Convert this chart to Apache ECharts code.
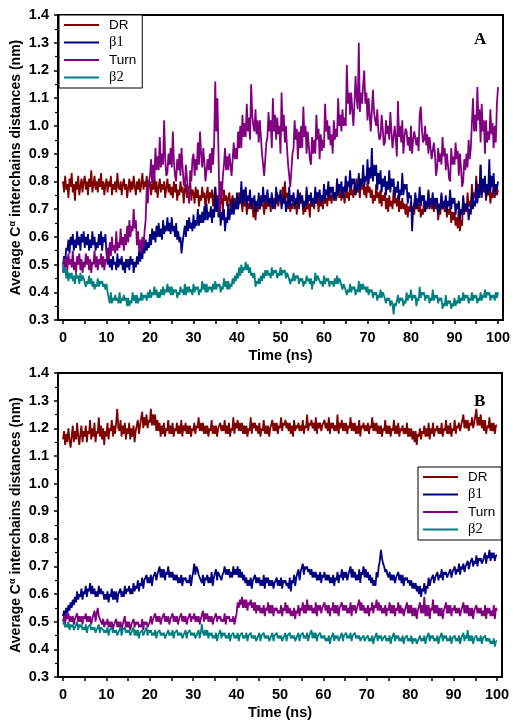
<!DOCTYPE html>
<html>
<head>
<meta charset="utf-8">
<script src="https://cdn.jsdelivr.net/npm/echarts@6/dist/echarts.min.js"></script>
<style>
  html, body { margin: 0; padding: 0; background: #fff; }
  #chart { width: 514px; height: 722px; }
</style>
</head>
<body>
<div id="chart"></div>
<script>
// Sampling interval of the trajectories (ns)
const SAMPLE_STEP_NS = 0.25;

const seriesNames = ['DR', 'β1', 'Turn', 'β2'];
const seriesColors = ['#800000', '#000080', '#800080', '#008080'];

const xTickLabels = [0, 10, 20, 30, 40, 50, 60, 70, 80, 90, 100];
const xTickMarks = [0, 5, 10, 15, 20, 25, 30, 35, 40, 45, 50, 55, 60, 65, 70, 75, 80, 85, 90, 95, 100];
const yTickLabels = ['0.3', '0.4', '0.5', '0.6', '0.7', '0.8', '0.9', '1.0', '1.1', '1.2', '1.3', '1.4'];

// ---- Panel A: average C-alpha interchain distances (nm), one row per 5 ns ----
const panelA_DR = [
  0.80,0.76,0.82,0.77, 0.79,0.74,0.81,0.78, 0.83,0.76,0.79,0.73, 0.80,0.77,0.82,0.75, 0.78,0.81,0.76,0.80,
  0.82,0.77,0.80,0.75, 0.81,0.78,0.84,0.76, 0.79,0.82,0.77,0.80, 0.76,0.81,0.78,0.83, 0.77,0.80,0.75,0.79,
  0.81,0.76,0.80,0.78, 0.82,0.75,0.79,0.77, 0.80,0.76,0.83,0.78, 0.77,0.80,0.75,0.79, 0.81,0.77,0.79,0.74,
  0.78,0.81,0.76,0.80, 0.77,0.82,0.78,0.75, 0.80,0.77,0.81,0.76, 0.79,0.83,0.77,0.80, 0.78,0.82,0.76,0.79,
  0.80,0.75,0.79,0.77, 0.82,0.76,0.80,0.74, 0.78,0.81,0.76,0.79, 0.77,0.80,0.74,0.78, 0.81,0.76,0.79,0.75,
  0.78,0.74,0.80,0.76, 0.79,0.73,0.77,0.75, 0.80,0.76,0.78,0.72, 0.77,0.79,0.74,0.78, 0.76,0.80,0.73,0.77,
  0.76,0.72,0.78,0.74, 0.77,0.71,0.75,0.73, 0.78,0.74,0.76,0.70, 0.75,0.78,0.72,0.76, 0.74,0.77,0.71,0.75,
  0.78,0.73,0.75,0.70, 0.76,0.72,0.74,0.69, 0.77,0.73,0.75,0.71, 0.74,0.76,0.70,0.73, 0.75,0.71,0.74,0.70,
  0.74,0.70,0.76,0.72, 0.73,0.69,0.75,0.71, 0.74,0.68,0.72,0.70, 0.75,0.71,0.73,0.67, 0.72,0.66,0.71,0.69,
  0.73,0.70,0.75,0.71, 0.72,0.68,0.74,0.70, 0.76,0.71,0.73,0.69, 0.75,0.72,0.74,0.70, 0.73,0.76,0.71,0.74,
  0.75,0.71,0.78,0.73, 0.80,0.74,0.76,0.70, 0.74,0.69,0.72,0.70, 0.75,0.71,0.73,0.68, 0.74,0.70,0.76,0.72,
  0.73,0.68,0.71,0.69, 0.74,0.70,0.72,0.67, 0.75,0.71,0.73,0.70, 0.76,0.72,0.74,0.69, 0.75,0.71,0.73,0.70,
  0.76,0.72,0.74,0.71, 0.77,0.73,0.75,0.72, 0.78,0.74,0.76,0.73, 0.75,0.79,0.74,0.77, 0.73,0.78,0.75,0.72,
  0.78,0.74,0.76,0.73, 0.80,0.75,0.77,0.74, 0.79,0.75,0.81,0.76, 0.78,0.74,0.80,0.77, 0.79,0.75,0.78,0.74,
  0.80,0.76,0.78,0.74, 0.77,0.72,0.75,0.73, 0.79,0.74,0.76,0.72, 0.77,0.71,0.75,0.73, 0.76,0.70,0.74,0.69,
  0.75,0.71,0.73,0.70, 0.77,0.72,0.74,0.71, 0.75,0.69,0.73,0.70, 0.74,0.70,0.72,0.68, 0.72,0.67,0.71,0.69,
  0.73,0.69,0.71,0.68, 0.75,0.70,0.73,0.69, 0.72,0.67,0.70,0.68, 0.74,0.69,0.72,0.70, 0.76,0.71,0.73,0.70,
  0.74,0.69,0.72,0.70, 0.72,0.66,0.70,0.68, 0.75,0.70,0.72,0.69, 0.73,0.67,0.70,0.68, 0.71,0.65,0.69,0.66,
  0.69,0.64,0.67,0.63, 0.72,0.62,0.66,0.64, 0.74,0.68,0.71,0.69, 0.76,0.71,0.73,0.70, 0.79,0.73,0.76,0.74,
  0.82,0.75,0.79,0.77, 0.86,0.74,0.80,0.76, 0.80,0.73,0.77,0.75, 0.78,0.72,0.76,0.74, 0.80,0.74,0.78,0.75,
  0.77
];
const panelA_B1 = [
  0.50,0.53,0.51,0.56, 0.55,0.59,0.54,0.60, 0.57,0.61,0.55,0.59, 0.56,0.62,0.57,0.60, 0.55,0.61,0.58,0.62,
  0.56,0.60,0.57,0.61, 0.55,0.59,0.56,0.62, 0.57,0.60,0.55,0.58, 0.56,0.61,0.57,0.62, 0.55,0.60,0.58,0.61,
  0.54,0.50,0.53,0.49, 0.52,0.48,0.53,0.50, 0.51,0.48,0.54,0.49, 0.52,0.50,0.53,0.48, 0.51,0.47,0.52,0.49,
  0.52,0.48,0.53,0.50, 0.52,0.47,0.51,0.49, 0.53,0.50,0.55,0.51, 0.56,0.52,0.58,0.54, 0.59,0.55,0.58,0.56,
  0.61,0.57,0.63,0.59, 0.62,0.58,0.64,0.60, 0.65,0.60,0.63,0.59, 0.66,0.61,0.64,0.62, 0.67,0.62,0.65,0.61,
  0.67,0.62,0.64,0.60, 0.65,0.59,0.62,0.58, 0.60,0.54,0.58,0.61, 0.64,0.60,0.66,0.62, 0.67,0.63,0.65,0.62,
  0.68,0.63,0.66,0.64, 0.70,0.64,0.68,0.65, 0.69,0.65,0.71,0.66, 0.72,0.66,0.69,0.67, 0.71,0.65,0.70,0.67,
  0.78,0.69,0.74,0.67, 0.73,0.64,0.69,0.66, 0.70,0.62,0.67,0.65, 0.72,0.66,0.70,0.68, 0.74,0.68,0.72,0.70,
  0.76,0.70,0.74,0.72, 0.80,0.72,0.77,0.73, 0.78,0.71,0.75,0.73, 0.77,0.70,0.74,0.72, 0.75,0.69,0.73,0.71,
  0.76,0.70,0.74,0.72, 0.78,0.72,0.75,0.73, 0.77,0.71,0.74,0.72, 0.76,0.70,0.73,0.71, 0.78,0.72,0.75,0.73,
  0.77,0.70,0.74,0.72, 0.75,0.69,0.73,0.71, 0.78,0.71,0.75,0.73, 0.76,0.70,0.74,0.72, 0.77,0.71,0.75,0.73,
  0.75,0.70,0.73,0.71, 0.78,0.72,0.75,0.73, 0.76,0.71,0.74,0.72, 0.78,0.72,0.76,0.74, 0.77,0.72,0.75,0.73,
  0.79,0.73,0.77,0.75, 0.80,0.74,0.78,0.76, 0.78,0.73,0.76,0.74, 0.81,0.75,0.79,0.77, 0.80,0.74,0.78,0.76,
  0.82,0.76,0.80,0.78, 0.84,0.77,0.81,0.79, 0.81,0.75,0.79,0.77, 0.83,0.77,0.81,0.79, 0.86,0.78,0.82,0.80,
  0.88,0.79,0.85,0.81, 0.92,0.80,0.86,0.82, 0.86,0.77,0.83,0.79, 0.84,0.76,0.81,0.78, 0.82,0.75,0.80,0.77,
  0.84,0.76,0.81,0.78, 0.81,0.74,0.78,0.76, 0.80,0.73,0.77,0.75, 0.83,0.75,0.79,0.77, 0.79,0.72,0.76,0.74,
  0.75,0.62,0.70,0.72, 0.76,0.70,0.74,0.72, 0.78,0.71,0.75,0.73, 0.75,0.69,0.73,0.71, 0.77,0.70,0.74,0.72,
  0.76,0.70,0.74,0.72, 0.74,0.68,0.72,0.70, 0.76,0.70,0.73,0.71, 0.75,0.69,0.73,0.71, 0.77,0.70,0.74,0.72,
  0.74,0.68,0.72,0.70, 0.73,0.66,0.70,0.68, 0.75,0.69,0.72,0.70, 0.72,0.66,0.70,0.68, 0.76,0.70,0.73,0.71,
  0.80,0.72,0.77,0.74, 0.86,0.75,0.81,0.77, 0.82,0.74,0.79,0.76, 0.88,0.76,0.82,0.78, 0.83,0.75,0.79,0.77,
  0.80
];
const panelA_Turn = [
  0.47,0.52,0.49,0.53, 0.48,0.54,0.50,0.52, 0.49,0.55,0.48,0.51, 0.47,0.53,0.50,0.54, 0.48,0.52,0.47,0.51,
  0.49,0.54,0.50,0.53, 0.48,0.52,0.47,0.51, 0.50,0.55,0.49,0.53, 0.48,0.52,0.50,0.54, 0.49,0.53,0.48,0.52,
  0.51,0.56,0.52,0.58, 0.53,0.60,0.55,0.57, 0.54,0.62,0.55,0.58, 0.56,0.63,0.57,0.60, 0.55,0.61,0.57,0.64,
  0.58,0.66,0.60,0.64, 0.62,0.70,0.63,0.66, 0.57,0.62,0.55,0.59, 0.54,0.60,0.56,0.62, 0.66,0.78,0.72,0.80,
  0.82,0.88,0.79,0.86, 0.80,0.92,0.84,0.89, 0.84,0.96,0.85,0.90, 0.86,1.02,0.88,0.82, 0.83,0.90,0.86,0.92,
  0.85,0.98,0.87,0.82, 0.80,0.88,0.84,0.90, 0.82,0.92,0.85,0.79, 0.78,0.86,0.81,0.76, 0.72,0.84,0.80,0.88,
  0.90,0.82,0.88,0.84, 0.94,0.86,0.98,0.90, 0.85,0.92,0.87,0.80, 0.80,0.88,0.84,0.90, 0.83,0.92,0.86,0.94,
  1.16,0.98,1.10,0.90, 0.68,0.80,0.74,0.82, 0.86,0.92,0.84,0.89, 0.84,0.90,0.86,0.82, 0.82,0.94,0.88,0.92,
  0.88,0.98,0.92,1.00, 0.92,1.04,0.96,1.01, 0.96,1.08,0.98,1.03, 0.95,1.15,1.04,1.00, 0.98,1.06,0.97,1.02,
  0.94,1.02,0.96,0.90, 0.90,0.82,0.88,0.94, 0.96,1.05,0.98,1.02, 0.92,1.10,0.98,1.04, 0.95,1.03,0.97,1.00,
  0.90,1.12,0.98,1.04, 0.94,1.00,0.92,0.86, 0.86,0.78,0.84,0.90, 0.92,1.02,0.95,0.99, 0.88,0.98,0.92,1.00,
  0.92,1.07,0.96,1.00, 0.90,0.98,0.93,0.88, 0.86,0.96,0.90,0.95, 0.90,1.04,0.95,0.99, 0.88,0.97,0.91,0.95,
  0.92,1.08,0.98,1.02, 0.95,1.00,0.93,0.97, 0.90,1.02,0.95,0.99, 0.96,1.10,1.00,1.04, 0.98,1.06,1.00,1.03,
  1.00,1.22,1.08,1.12, 1.04,1.12,1.06,1.00, 1.08,1.18,1.10,1.06, 1.30,1.05,1.12,1.08, 1.15,1.20,1.08,1.12,
  1.02,1.10,1.04,0.98, 0.98,1.13,1.05,1.02, 1.00,1.06,0.98,0.95, 0.96,1.04,0.99,0.93, 0.94,1.02,0.97,1.00,
  0.95,1.05,0.98,0.92, 0.92,1.00,0.95,0.89, 1.09,0.96,1.00,0.94, 1.02,0.90,0.96,0.99, 0.98,0.93,0.96,0.91,
  1.00,0.90,0.95,0.98, 0.98,0.93,0.96,0.91, 1.04,1.07,0.99,0.94, 0.95,1.00,0.93,0.97, 0.90,0.96,0.92,0.88,
  0.88,0.94,0.90,0.82, 0.85,0.92,0.87,0.90, 0.86,0.96,0.89,0.92, 0.84,0.90,0.86,0.81, 0.80,0.92,0.86,0.89,
  0.86,0.94,0.88,0.91, 0.82,0.90,0.85,0.78, 0.80,0.88,0.84,0.90, 0.85,0.95,0.88,0.92, 0.92,1.10,0.98,1.04,
  0.98,1.14,1.02,1.06, 0.94,1.08,0.98,1.02, 0.90,1.02,0.94,0.98, 0.95,1.06,0.97,1.01, 0.92,1.00,0.94,1.08,
  1.14
];
const panelA_B2 = [
  0.50,0.47,0.49,0.45, 0.48,0.44,0.47,0.45, 0.47,0.44,0.46,0.43, 0.47,0.45,0.46,0.43, 0.47,0.44,0.46,0.45,
  0.45,0.42,0.44,0.43, 0.46,0.43,0.45,0.42, 0.44,0.41,0.43,0.42, 0.45,0.42,0.44,0.43, 0.44,0.42,0.43,0.41,
  0.43,0.40,0.38,0.36, 0.40,0.36,0.38,0.37, 0.39,0.37,0.38,0.36, 0.40,0.36,0.38,0.37, 0.39,0.37,0.38,0.35,
  0.38,0.35,0.37,0.36, 0.40,0.37,0.39,0.36, 0.39,0.36,0.38,0.37, 0.40,0.37,0.39,0.38, 0.39,0.37,0.40,0.38,
  0.41,0.38,0.40,0.39, 0.42,0.39,0.41,0.38, 0.40,0.38,0.41,0.39, 0.42,0.39,0.41,0.40, 0.43,0.40,0.42,0.39,
  0.42,0.39,0.41,0.40, 0.41,0.38,0.40,0.39, 0.42,0.40,0.41,0.39, 0.43,0.39,0.42,0.40, 0.42,0.40,0.41,0.39,
  0.43,0.40,0.42,0.41, 0.42,0.39,0.41,0.40, 0.44,0.41,0.43,0.40, 0.43,0.40,0.42,0.41, 0.42,0.40,0.43,0.41,
  0.44,0.41,0.43,0.42, 0.43,0.40,0.42,0.41, 0.45,0.42,0.44,0.41, 0.44,0.41,0.43,0.42, 0.45,0.43,0.46,0.44,
  0.47,0.45,0.49,0.46, 0.50,0.47,0.49,0.48, 0.51,0.48,0.50,0.47, 0.49,0.46,0.47,0.45, 0.47,0.42,0.44,0.43,
  0.45,0.43,0.46,0.44, 0.47,0.45,0.48,0.46, 0.48,0.46,0.47,0.45, 0.49,0.46,0.48,0.47, 0.48,0.45,0.47,0.46,
  0.49,0.46,0.48,0.47, 0.48,0.45,0.47,0.46, 0.46,0.43,0.45,0.44, 0.47,0.44,0.46,0.45, 0.46,0.43,0.45,0.44,
  0.45,0.42,0.44,0.43, 0.46,0.44,0.45,0.43, 0.45,0.41,0.44,0.43, 0.47,0.44,0.46,0.45, 0.45,0.43,0.44,0.42,
  0.46,0.43,0.45,0.44, 0.45,0.42,0.44,0.43, 0.44,0.42,0.45,0.43, 0.46,0.43,0.45,0.44, 0.44,0.41,0.43,0.42,
  0.42,0.39,0.41,0.40, 0.43,0.40,0.42,0.41, 0.42,0.39,0.41,0.40, 0.44,0.40,0.43,0.41, 0.43,0.41,0.42,0.40,
  0.42,0.39,0.41,0.40, 0.41,0.38,0.40,0.39, 0.40,0.37,0.39,0.38, 0.41,0.38,0.40,0.39, 0.39,0.36,0.38,0.37,
  0.38,0.35,0.37,0.36, 0.32,0.36,0.35,0.37, 0.39,0.36,0.38,0.37, 0.38,0.35,0.37,0.36, 0.40,0.37,0.39,0.38,
  0.41,0.37,0.39,0.38, 0.39,0.35,0.38,0.37, 0.42,0.38,0.40,0.39, 0.40,0.37,0.39,0.38, 0.39,0.36,0.38,0.37,
  0.41,0.37,0.39,0.38, 0.39,0.36,0.38,0.37, 0.38,0.34,0.36,0.35, 0.39,0.35,0.37,0.36, 0.37,0.34,0.36,0.35,
  0.38,0.35,0.37,0.36, 0.39,0.36,0.38,0.37, 0.40,0.37,0.39,0.38, 0.39,0.36,0.38,0.37, 0.40,0.37,0.39,0.38,
  0.39,0.36,0.38,0.37, 0.40,0.37,0.39,0.38, 0.41,0.38,0.40,0.39, 0.40,0.37,0.39,0.38, 0.39,0.37,0.40,0.38,
  0.40
];

// ---- Panel B ----
const panelB_DR = [
  1.16,1.19,1.14,1.18, 1.15,1.20,1.16,1.13, 1.17,1.21,1.15,1.19, 1.16,1.22,1.17,1.14, 1.18,1.21,1.15,1.19,
  1.17,1.21,1.15,1.19, 1.18,1.23,1.16,1.20, 1.17,1.22,1.15,1.19, 1.18,1.24,1.17,1.21, 1.16,1.20,1.14,1.19,
  1.17,1.22,1.16,1.20, 1.19,1.23,1.17,1.21, 1.18,1.22,1.27,1.20, 1.19,1.23,1.17,1.21, 1.18,1.22,1.16,1.20,
  1.18,1.22,1.16,1.20, 1.17,1.21,1.15,1.19, 1.19,1.23,1.18,1.21, 1.21,1.26,1.20,1.24, 1.21,1.25,1.20,1.23,
  1.22,1.27,1.21,1.25, 1.21,1.25,1.19,1.23, 1.19,1.22,1.17,1.21, 1.18,1.22,1.17,1.20, 1.19,1.23,1.18,1.21,
  1.18,1.22,1.17,1.20, 1.19,1.22,1.18,1.21, 1.18,1.23,1.17,1.21, 1.19,1.22,1.18,1.21, 1.18,1.21,1.17,1.20,
  1.19,1.22,1.18,1.21, 1.20,1.24,1.19,1.22, 1.19,1.22,1.18,1.21, 1.18,1.21,1.17,1.20, 1.19,1.23,1.18,1.21,
  1.18,1.21,1.17,1.20, 1.20,1.22,1.19,1.21, 1.19,1.23,1.18,1.21, 1.18,1.22,1.17,1.20, 1.19,1.24,1.18,1.22,
  1.20,1.23,1.19,1.22, 1.19,1.22,1.18,1.21, 1.18,1.21,1.17,1.20, 1.19,1.24,1.18,1.22, 1.20,1.22,1.19,1.21,
  1.18,1.22,1.17,1.20, 1.19,1.23,1.18,1.21, 1.18,1.21,1.17,1.20, 1.20,1.23,1.19,1.22, 1.19,1.22,1.18,1.21,
  1.20,1.24,1.19,1.22, 1.21,1.23,1.20,1.22, 1.19,1.22,1.18,1.21, 1.17,1.23,1.19,1.21, 1.20,1.22,1.19,1.21,
  1.19,1.23,1.18,1.21, 1.20,1.25,1.19,1.22, 1.21,1.23,1.20,1.22, 1.19,1.24,1.18,1.22, 1.20,1.22,1.19,1.21,
  1.21,1.23,1.20,1.22, 1.19,1.24,1.18,1.22, 1.20,1.22,1.19,1.21, 1.19,1.25,1.18,1.22, 1.20,1.23,1.19,1.22,
  1.19,1.22,1.18,1.21, 1.20,1.24,1.19,1.22, 1.19,1.22,1.18,1.21, 1.18,1.23,1.17,1.21, 1.20,1.22,1.19,1.21,
  1.19,1.22,1.18,1.21, 1.20,1.24,1.19,1.22, 1.19,1.22,1.18,1.21, 1.18,1.21,1.17,1.20, 1.19,1.23,1.18,1.21,
  1.18,1.21,1.17,1.20, 1.19,1.23,1.18,1.21, 1.18,1.22,1.17,1.20, 1.19,1.21,1.18,1.20, 1.18,1.22,1.17,1.20,
  1.17,1.20,1.16,1.19, 1.15,1.19,1.14,1.18, 1.17,1.20,1.16,1.19, 1.18,1.21,1.17,1.20, 1.17,1.22,1.16,1.20,
  1.18,1.22,1.17,1.20, 1.19,1.21,1.18,1.20, 1.18,1.22,1.17,1.20, 1.19,1.23,1.18,1.21, 1.18,1.22,1.17,1.20,
  1.19,1.23,1.18,1.21, 1.20,1.22,1.19,1.21, 1.21,1.25,1.20,1.23, 1.20,1.23,1.19,1.22, 1.21,1.24,1.20,1.22,
  1.22,1.27,1.21,1.24, 1.21,1.25,1.20,1.23, 1.19,1.23,1.18,1.21, 1.20,1.24,1.19,1.22, 1.19,1.22,1.18,1.21,
  1.21
];
const panelB_B1 = [
  0.52,0.54,0.51,0.55, 0.53,0.56,0.54,0.57, 0.55,0.58,0.56,0.59, 0.57,0.61,0.58,0.60, 0.59,0.62,0.58,0.61,
  0.60,0.63,0.59,0.62, 0.61,0.64,0.60,0.63, 0.60,0.62,0.59,0.61, 0.59,0.63,0.60,0.62, 0.60,0.61,0.58,0.60,
  0.58,0.61,0.57,0.60, 0.59,0.62,0.58,0.61, 0.58,0.61,0.57,0.60, 0.60,0.62,0.59,0.61, 0.59,0.63,0.60,0.62,
  0.61,0.63,0.60,0.62, 0.60,0.64,0.61,0.63, 0.62,0.65,0.61,0.64, 0.63,0.66,0.62,0.65, 0.65,0.67,0.64,0.66,
  0.64,0.67,0.63,0.66, 0.66,0.68,0.65,0.67, 0.67,0.70,0.66,0.69, 0.66,0.69,0.65,0.68, 0.67,0.70,0.66,0.68,
  0.66,0.68,0.65,0.67, 0.65,0.67,0.64,0.66, 0.64,0.67,0.63,0.66, 0.65,0.66,0.64,0.65, 0.64,0.67,0.63,0.66,
  0.68,0.71,0.67,0.70, 0.69,0.67,0.66,0.65, 0.64,0.67,0.63,0.66, 0.65,0.67,0.64,0.66, 0.64,0.68,0.63,0.66,
  0.66,0.69,0.65,0.68, 0.67,0.66,0.65,0.67, 0.68,0.70,0.67,0.69, 0.67,0.69,0.66,0.68, 0.66,0.70,0.67,0.69,
  0.67,0.70,0.66,0.69, 0.66,0.68,0.65,0.67, 0.64,0.66,0.63,0.65, 0.63,0.66,0.62,0.65, 0.65,0.67,0.64,0.66,
  0.64,0.66,0.63,0.65, 0.63,0.67,0.62,0.66, 0.64,0.66,0.63,0.65, 0.63,0.65,0.62,0.64, 0.64,0.66,0.63,0.65,
  0.63,0.66,0.62,0.65, 0.64,0.65,0.63,0.64, 0.62,0.66,0.61,0.65, 0.64,0.67,0.63,0.66, 0.66,0.69,0.65,0.68,
  0.68,0.71,0.67,0.70, 0.69,0.70,0.68,0.69, 0.67,0.69,0.66,0.68, 0.66,0.68,0.65,0.67, 0.65,0.68,0.64,0.67,
  0.66,0.68,0.65,0.67, 0.65,0.67,0.64,0.66, 0.64,0.67,0.63,0.66, 0.65,0.68,0.64,0.67, 0.66,0.69,0.65,0.68,
  0.66,0.68,0.65,0.67, 0.67,0.70,0.66,0.69, 0.66,0.68,0.65,0.67, 0.65,0.69,0.64,0.68, 0.67,0.70,0.66,0.69,
  0.66,0.68,0.65,0.67, 0.64,0.66,0.63,0.65, 0.63,0.68,0.66,0.70, 0.72,0.76,0.73,0.71, 0.70,0.68,0.69,0.67,
  0.66,0.68,0.65,0.67, 0.65,0.67,0.64,0.66, 0.66,0.68,0.65,0.67, 0.64,0.67,0.63,0.66, 0.65,0.66,0.64,0.65,
  0.63,0.65,0.62,0.64, 0.62,0.64,0.61,0.63, 0.60,0.63,0.59,0.62, 0.61,0.64,0.60,0.63, 0.62,0.66,0.63,0.65,
  0.65,0.67,0.64,0.66, 0.66,0.68,0.65,0.67, 0.66,0.69,0.65,0.68, 0.67,0.68,0.66,0.67, 0.67,0.69,0.66,0.68,
  0.68,0.70,0.67,0.69, 0.68,0.71,0.67,0.70, 0.69,0.71,0.68,0.70, 0.70,0.72,0.69,0.71, 0.71,0.73,0.70,0.72,
  0.71,0.74,0.70,0.73, 0.72,0.73,0.71,0.72, 0.72,0.75,0.71,0.74, 0.73,0.76,0.72,0.75, 0.73,0.75,0.72,0.74,
  0.74
];
const panelB_Turn = [
  0.50,0.52,0.49,0.53, 0.51,0.53,0.50,0.52, 0.50,0.52,0.49,0.51, 0.51,0.53,0.50,0.52, 0.50,0.52,0.49,0.52,
  0.51,0.53,0.50,0.52, 0.50,0.52,0.49,0.51, 0.51,0.54,0.50,0.53, 0.55,0.52,0.51,0.50, 0.49,0.51,0.48,0.50,
  0.49,0.51,0.48,0.50, 0.48,0.50,0.47,0.49, 0.49,0.51,0.48,0.50, 0.48,0.50,0.47,0.49, 0.49,0.52,0.48,0.50,
  0.48,0.50,0.47,0.49, 0.49,0.51,0.48,0.50, 0.49,0.50,0.48,0.49, 0.48,0.51,0.47,0.50, 0.49,0.50,0.48,0.49,
  0.50,0.52,0.49,0.51, 0.51,0.53,0.50,0.52, 0.50,0.52,0.49,0.51, 0.51,0.53,0.50,0.52, 0.50,0.52,0.49,0.51,
  0.51,0.53,0.50,0.52, 0.50,0.52,0.49,0.51, 0.51,0.53,0.50,0.52, 0.50,0.52,0.49,0.51, 0.51,0.53,0.50,0.52,
  0.51,0.53,0.50,0.52, 0.50,0.52,0.49,0.51, 0.51,0.54,0.50,0.53, 0.51,0.53,0.50,0.52, 0.50,0.52,0.49,0.51,
  0.51,0.53,0.50,0.52, 0.51,0.52,0.50,0.51, 0.50,0.53,0.49,0.52, 0.51,0.52,0.50,0.51, 0.50,0.52,0.49,0.51,
  0.53,0.57,0.55,0.58, 0.56,0.59,0.55,0.58, 0.55,0.58,0.54,0.57, 0.56,0.58,0.55,0.57, 0.54,0.57,0.53,0.56,
  0.54,0.56,0.53,0.55, 0.53,0.56,0.52,0.55, 0.54,0.57,0.53,0.56, 0.53,0.56,0.52,0.55, 0.54,0.55,0.53,0.54,
  0.53,0.56,0.52,0.55, 0.54,0.57,0.53,0.56, 0.53,0.55,0.52,0.54, 0.52,0.55,0.51,0.54, 0.53,0.56,0.52,0.55,
  0.54,0.57,0.53,0.56, 0.53,0.58,0.54,0.56, 0.54,0.56,0.53,0.55, 0.53,0.57,0.52,0.56, 0.54,0.56,0.53,0.55,
  0.55,0.57,0.54,0.56, 0.53,0.56,0.52,0.55, 0.54,0.57,0.53,0.56, 0.53,0.56,0.52,0.55, 0.55,0.57,0.54,0.56,
  0.54,0.56,0.53,0.55, 0.53,0.57,0.52,0.56, 0.54,0.56,0.53,0.55, 0.55,0.58,0.54,0.57, 0.54,0.56,0.53,0.55,
  0.53,0.56,0.52,0.55, 0.54,0.57,0.53,0.56, 0.55,0.58,0.54,0.57, 0.54,0.56,0.53,0.55, 0.53,0.56,0.52,0.55,
  0.54,0.57,0.53,0.56, 0.53,0.56,0.52,0.55, 0.54,0.57,0.53,0.56, 0.53,0.55,0.52,0.54, 0.54,0.57,0.53,0.56,
  0.53,0.56,0.52,0.55, 0.52,0.55,0.51,0.54, 0.54,0.57,0.53,0.56, 0.53,0.59,0.52,0.56, 0.52,0.56,0.51,0.55,
  0.54,0.58,0.53,0.56, 0.53,0.56,0.52,0.55, 0.52,0.55,0.51,0.54, 0.54,0.57,0.53,0.56, 0.53,0.56,0.52,0.55,
  0.54,0.56,0.53,0.55, 0.53,0.55,0.52,0.54, 0.54,0.57,0.53,0.56, 0.53,0.56,0.52,0.55, 0.52,0.55,0.51,0.54,
  0.54,0.56,0.53,0.55, 0.53,0.55,0.52,0.54, 0.52,0.56,0.51,0.55, 0.53,0.55,0.52,0.54, 0.52,0.56,0.51,0.55,
  0.54
];
const panelB_B2 = [
  0.49,0.50,0.48,0.49, 0.48,0.50,0.47,0.49, 0.48,0.49,0.47,0.48, 0.48,0.50,0.47,0.49, 0.48,0.49,0.47,0.48,
  0.47,0.49,0.46,0.48, 0.48,0.49,0.47,0.48, 0.47,0.48,0.46,0.47, 0.47,0.49,0.46,0.48, 0.48,0.47,0.46,0.47,
  0.46,0.48,0.45,0.47, 0.47,0.48,0.46,0.47, 0.46,0.47,0.45,0.46, 0.46,0.48,0.45,0.47, 0.47,0.48,0.46,0.47,
  0.46,0.47,0.45,0.46, 0.46,0.48,0.45,0.47, 0.45,0.47,0.44,0.46, 0.46,0.47,0.45,0.46, 0.46,0.48,0.45,0.47,
  0.46,0.47,0.45,0.46, 0.45,0.47,0.44,0.46, 0.46,0.47,0.45,0.46, 0.45,0.46,0.44,0.45, 0.46,0.47,0.45,0.46,
  0.45,0.47,0.44,0.46, 0.46,0.47,0.45,0.46, 0.45,0.46,0.44,0.45, 0.45,0.47,0.44,0.46, 0.46,0.47,0.45,0.46,
  0.45,0.46,0.44,0.45, 0.45,0.47,0.44,0.46, 0.49,0.46,0.45,0.47, 0.45,0.47,0.44,0.46, 0.45,0.46,0.44,0.45,
  0.44,0.46,0.43,0.45, 0.45,0.47,0.44,0.46, 0.45,0.46,0.44,0.45, 0.44,0.46,0.43,0.45, 0.45,0.46,0.44,0.45,
  0.44,0.46,0.43,0.45, 0.45,0.46,0.44,0.45, 0.44,0.46,0.43,0.45, 0.45,0.46,0.44,0.45, 0.44,0.45,0.43,0.44,
  0.44,0.46,0.43,0.45, 0.45,0.46,0.44,0.45, 0.44,0.45,0.43,0.44, 0.44,0.46,0.43,0.45, 0.45,0.46,0.44,0.45,
  0.44,0.45,0.43,0.44, 0.44,0.46,0.43,0.45, 0.45,0.46,0.44,0.45, 0.44,0.45,0.43,0.44, 0.44,0.46,0.43,0.45,
  0.45,0.46,0.44,0.45, 0.44,0.46,0.43,0.45, 0.45,0.47,0.44,0.46, 0.44,0.46,0.43,0.45, 0.45,0.46,0.44,0.45,
  0.44,0.45,0.43,0.44, 0.43,0.45,0.42,0.44, 0.44,0.46,0.43,0.45, 0.44,0.45,0.43,0.44, 0.44,0.46,0.43,0.45,
  0.45,0.46,0.44,0.45, 0.44,0.46,0.43,0.45, 0.45,0.46,0.44,0.45, 0.44,0.45,0.43,0.44, 0.44,0.45,0.43,0.44,
  0.44,0.45,0.43,0.44, 0.43,0.45,0.42,0.44, 0.44,0.46,0.43,0.45, 0.44,0.45,0.43,0.44, 0.44,0.45,0.43,0.44,
  0.43,0.45,0.42,0.44, 0.44,0.46,0.43,0.45, 0.44,0.45,0.43,0.44, 0.43,0.45,0.42,0.44, 0.44,0.45,0.43,0.44,
  0.43,0.45,0.42,0.44, 0.43,0.44,0.42,0.43, 0.44,0.45,0.43,0.44, 0.43,0.45,0.42,0.44, 0.44,0.46,0.43,0.45,
  0.44,0.45,0.43,0.44, 0.43,0.45,0.42,0.44, 0.44,0.46,0.43,0.45, 0.44,0.45,0.43,0.44, 0.43,0.45,0.42,0.44,
  0.44,0.45,0.43,0.44, 0.43,0.45,0.42,0.44, 0.44,0.46,0.43,0.45, 0.44,0.47,0.43,0.45, 0.43,0.45,0.42,0.44,
  0.44,0.45,0.43,0.44, 0.43,0.45,0.42,0.44, 0.44,0.45,0.43,0.44, 0.43,0.44,0.42,0.43, 0.42,0.44,0.41,0.43,
  0.43
];

const panels = [
  { series: [panelA_DR, panelA_B1, panelA_Turn, panelA_B2] },
  { series: [panelB_DR, panelB_B1, panelB_Turn, panelB_B2] }
];

const SANS = 'Arial, "Liberation Sans", Helvetica, sans-serif';
const SERIF = '"Times New Roman", "Liberation Serif", serif';

function toPoints(values) {
  return values.map((v, i) => [i * SAMPLE_STEP_NS, v]);
}

const grids = [
  { left: 58, top: 15, width: 445, height: 305 },
  { left: 58, top: 373, width: 444, height: 304 }
];

function xAxisFor(gridIndex) {
  return {
    type: 'value', gridIndex, min: -1.15, max: 101.15,
    name: 'Time (ns)', nameLocation: 'middle', nameGap: 28,
    nameTextStyle: { fontFamily: SANS, fontSize: 14.5, fontWeight: 'bold', color: '#000' },
    axisLine: { show: true, onZero: false, lineStyle: { color: '#000', width: 2 } },
    axisTick: { show: true, customValues: xTickMarks, length: 4, inside: false, lineStyle: { color: '#000', width: 1.5 } },
    axisLabel: { customValues: xTickLabels, margin: 10, fontFamily: SANS, fontSize: 14.5, fontWeight: 'bold', color: '#000' },
    splitLine: { show: false }
  };
}

function yAxisFor(gridIndex) {
  return {
    type: 'value', gridIndex, min: 0.3, max: 1.4, interval: 0.1,
    name: 'Average C{sup|α} interchains distances (nm)', nameLocation: 'middle', nameGap: 33, nameRotate: 90,
    nameMoveOverlap: false,
    nameTextStyle: {
      fontFamily: SANS, fontSize: 14, fontWeight: 'bold', color: '#000',
      rich: { sup: { fontFamily: SANS, fontSize: 9, fontWeight: 'bold', color: '#000', padding: [0, 0, 8, 0] } }
    },
    axisLine: { show: true, onZero: false, lineStyle: { color: '#000', width: 2 } },
    axisTick: { show: true, length: 4, inside: false, lineStyle: { color: '#000', width: 1.5 } },
    minorTick: { show: true, splitNumber: 2, length: 3, lineStyle: { color: '#000', width: 1.2 } },
    axisLabel: {
      margin: 9, fontFamily: SANS, fontSize: 14.5, fontWeight: 'bold', color: '#000',
      formatter: (v) => yTickLabels[Math.round((v - 0.3) * 10)]
    },
    splitLine: { show: false }
  };
}

function legendFor(left, top) {
  return {
    left, top, orient: 'vertical', data: seriesNames,
    icon: 'rect', itemWidth: 35, itemHeight: 2, itemGap: 3,
    borderColor: '#000', borderWidth: 1, padding: [3, 6, 3, 5],
    backgroundColor: '#fff',
    selectedMode: false,
    formatter: (name) => (name.startsWith('β') ? '{g|' + name + '}' : '{s|' + name + '}'),
    textStyle: {
      padding: [0, 0, 0, 5],
      rich: {
        s: { fontFamily: SANS, fontSize: 13.5, color: '#000', height: 14 },
        g: { fontFamily: SERIF, fontSize: 14.5, color: '#000', height: 14 }
      }
    }
  };
}

const series = [];
panels.forEach((panel, p) => {
  panel.series.forEach((values, k) => {
    series.push({
      name: seriesNames[k], type: 'line', xAxisIndex: p, yAxisIndex: p,
      data: toPoints(values), showSymbol: false, symbol: 'none',
      lineStyle: { color: seriesColors[k], width: 1.8 },
      itemStyle: { color: seriesColors[k] },
      z: 2 + k
    });
  });
});

const chart = echarts.init(document.getElementById('chart'), null, { renderer: 'canvas' });
chart.setOption({
  animation: false,
  backgroundColor: '#fff',
  grid: grids.map(g => Object.assign({
    show: true, borderColor: '#000', borderWidth: 2, backgroundColor: 'transparent',
    containLabel: false, outerBoundsMode: 'none'
  }, g)),
  xAxis: [xAxisFor(0), xAxisFor(1)],
  yAxis: [yAxisFor(0), yAxisFor(1)],
  legend: [legendFor(59, 15), legendFor(418, 467)],
  graphic: [
    { type: 'text', left: 474, top: 31, z: 20, style: { text: 'A', font: 'bold 17px ' + SERIF, fill: '#000' } },
    { type: 'text', left: 474, top: 393, z: 20, style: { text: 'B', font: 'bold 17px ' + SERIF, fill: '#000' } }
  ],
  series
});
</script>
</body>
</html>
